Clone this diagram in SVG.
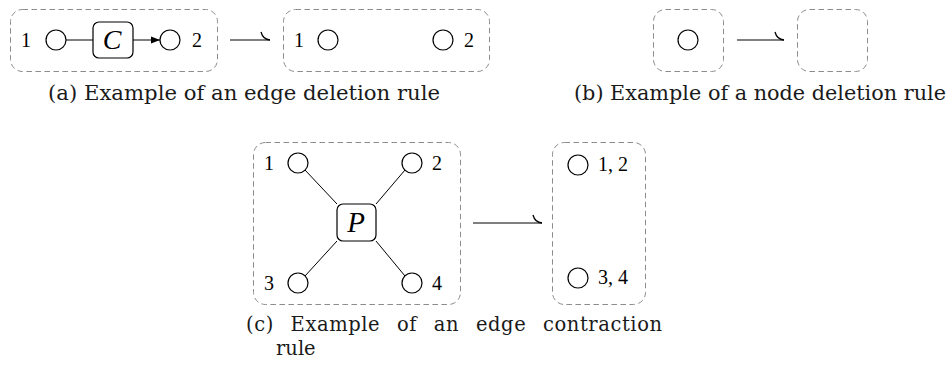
<svg xmlns="http://www.w3.org/2000/svg" width="949" height="370" viewBox="0 0 949 370">
<defs>
<style>
.grp{fill:none;stroke:#8c8c8c;stroke-width:1;stroke-dasharray:5.5,3.5}
.nd{fill:#fff;stroke:#000;stroke-width:1.2}
.op{fill:#fff;stroke:#000;stroke-width:1.2}
.ln{fill:none;stroke:#000;stroke-width:1}
.hk{fill:none;stroke:#000;stroke-width:1.3}
.lb{font-family:"Liberation Serif",serif;font-size:20px;fill:#000}
.cap{font-family:"DejaVu Serif",serif;font-size:19.5px;fill:#1a1a1a}
.mt{font-family:"Liberation Serif",serif;font-style:italic;fill:#000;text-anchor:middle}
</style>
<marker id="tri" viewBox="0 0 10 10" refX="10" refY="5" markerWidth="9" markerHeight="9" markerUnits="userSpaceOnUse" orient="auto">
<path d="M0,1 L10,5 L0,9 z" fill="#000"/>
</marker>
</defs>

<!-- (a) -->
<g id="a-left">
<rect class="grp" x="10.5" y="9.5" width="207" height="62" rx="12"/>
</g>
<g id="a-n1"><circle class="nd" cx="56" cy="40" r="10"/><text class="lb" x="21" y="47">1</text></g>
<g id="a-C"><rect class="op" x="93" y="22" width="40" height="36" rx="6"/><text class="mt" x="112" y="49" font-size="28">C</text></g>
<g id="a-n2"><circle class="nd" cx="170" cy="40" r="10"/><text class="lb" x="192" y="47">2</text></g>
<g id="a-right">
<rect class="grp" x="283.5" y="9.5" width="206" height="62" rx="12"/>
</g>
<g id="a-r1"><circle class="nd" cx="328" cy="40" r="10"/><text class="lb" x="294" y="47">1</text></g>
<g id="a-r2"><circle class="nd" cx="443" cy="40" r="10"/><text class="lb" x="464" y="47">2</text></g>

<!-- (b) -->
<g id="b-left">
<rect class="grp" x="653.5" y="9.5" width="70" height="62" rx="12"/>
</g>
<g id="b-n"><circle class="nd" cx="688" cy="40" r="10"/></g>
<g id="b-right">
<rect class="grp" x="797.5" y="9.5" width="70" height="62" rx="12"/>
</g>

<!-- (c) -->
<g id="c-left">
<rect class="grp" x="253.5" y="142.5" width="207" height="162" rx="12"/>
</g>
<g id="c-n1"><circle class="nd" cx="298" cy="163" r="10"/><text class="lb" x="264" y="170">1</text></g>
<g id="c-n2"><circle class="nd" cx="412" cy="163" r="10"/><text class="lb" x="432" y="170">2</text></g>
<g id="c-n3"><circle class="nd" cx="298" cy="283" r="10"/><text class="lb" x="264" y="290">3</text></g>
<g id="c-n4"><circle class="nd" cx="412" cy="283" r="10"/><text class="lb" x="432" y="290">4</text></g>
<g id="c-P"><rect class="op" x="337" y="204" width="39" height="37" rx="6"/><text class="mt" x="356" y="232" font-size="29">P</text></g>
<g id="c-right">
<rect class="grp" x="552.5" y="142.5" width="93" height="162" rx="12"/>
</g>
<g id="c-r12"><circle class="nd" cx="578" cy="165" r="10"/><text class="lb" x="598" y="171">1, 2</text></g>
<g id="c-r34"><circle class="nd" cx="578" cy="278" r="10"/><text class="lb" x="598" y="284">3, 4</text></g>

<!-- connectors -->
<g id="connectors">
<line class="ln" x1="66" y1="40" x2="93" y2="40"/>
<line class="ln" x1="133" y1="40" x2="160" y2="40" marker-end="url(#tri)"/>
<path class="ln" d="M230,40 H270"/>
<path class="hk" d="M261,32 Q263,39.5 270,40"/>
<path class="ln" d="M737,40 H784"/>
<path class="hk" d="M775,32 Q777,39.5 784,40"/>
<line class="ln" x1="305" y1="170" x2="337" y2="204"/>
<line class="ln" x1="405" y1="170" x2="376" y2="204"/>
<line class="ln" x1="305" y1="276" x2="337" y2="241"/>
<line class="ln" x1="405" y1="276" x2="376" y2="241"/>
<path class="ln" d="M473,223 H542"/>
<path class="hk" d="M533,215 Q535,222.5 542,223"/>
</g>

<!-- captions -->
<text class="cap" x="48" y="100" textLength="392" lengthAdjust="spacingAndGlyphs">(a) Example of an edge deletion rule</text>
<text class="cap" x="574" y="100" textLength="372" lengthAdjust="spacingAndGlyphs">(b) Example of a node deletion rule</text>
<text class="cap" x="246" y="331" textLength="416" lengthAdjust="spacing" word-spacing="10">(c) Example of an edge contraction</text>
<text class="cap" x="276" y="355">rule</text>
</svg>
